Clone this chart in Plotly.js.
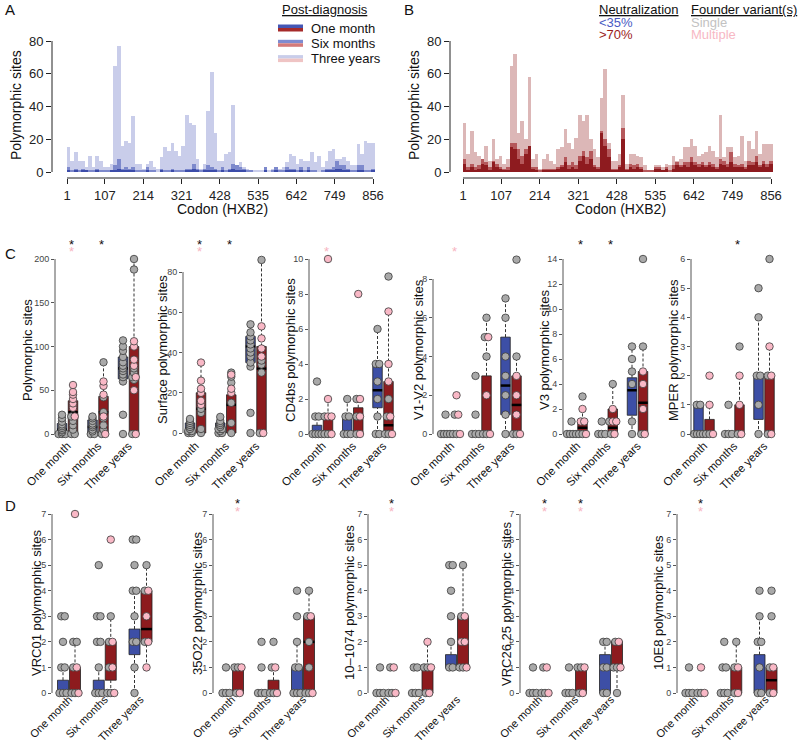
<!DOCTYPE html>
<html><head><meta charset="utf-8">
<script src="https://cdn.plot.ly/plotly-3.0.1.min.js"></script>
<style>html,body{margin:0;padding:0;background:#fff}#chart{width:800px;height:746px}</style>
</head><body><div id="chart"></div>
<script>
// ---------------- DATA ----------------
const categories = ['One month', 'Six months', 'Three years'];
const codonTicks = [1, 107, 214, 321, 428, 535, 642, 749, 856];
const codonBinWidth = 10;

// Panel A (<35% neutralization), polymorphic sites per 10-codon bin
const threeYearsA = [15,7,12,7,7,3,10,3,10,7, 3,3,5,65,77,16,19,18,34,5, 5,2,5,7,3,2,9,15,13,18, 13,10,16,35,30,29,8,2,5,37, 61,24,7,7,11,12,41,4,6,3, 2,1,1,1,1,3,1,2,3,2, 3,6,11,10,5,8,7,7,12,6, 10,3,7,13,14,8,8,9,7,4, 4,17,11,19,18,18];
const sixMonthsA  = [3,1,2,1,2,1,1,1,2,1, 1,1,1,4,8,2,3,2,3,1, 1,1,3,1,1,0,2,1,1,2, 1,1,1,2,2,5,2,1,2,4, 3,2,1,3,1,2,5,4,3,2, 1,1,0,0,0,3,0,1,3,1, 1,3,2,2,1,3,1,3,1,1, 0,1,2,2,3,7,4,4,2,1, 1,4,4,1,1,2];
const oneMonthA   = [1,0,1,0,1,1,0,0,1,0, 0,0,1,1,2,1,1,1,1,0, 0,0,1,0,0,0,1,0,0,1, 0,0,0,1,1,2,1,0,1,1, 1,1,0,1,0,1,2,1,1,1, 0,0,0,0,0,1,0,0,1,0, 0,1,1,1,0,1,0,1,0,0, 0,0,1,1,1,2,2,1,1,0, 0,1,1,0,0,1];
// Panel B (>70% neutralization)
const threeYearsB = [30,11,25,12,10,6,16,7,20,8, 10,5,8,65,72,24,31,20,58,8, 11,2,8,11,7,5,14,15,26,18, 14,21,35,31,35,20,14,9,45,63, 18,7,7,11,47,5,11,11,10,9, 4,1,1,4,4,3,5,4,10,7, 8,15,15,20,16,10,11,12,16,13, 9,35,9,15,15,9,10,22,7,19, 14,25,11,17,17,17];
const sixMonthsB  = [8,3,5,3,4,8,6,3,7,5, 3,2,3,18,18,14,10,14,16,3, 3,1,2,2,2,2,3,4,9,4, 6,4,10,13,9,13,4,3,25,20, 14,2,2,4,27,2,5,4,5,3, 1,1,1,3,3,1,3,1,4,6, 4,6,6,9,6,5,6,4,6,5, 3,8,7,5,12,5,4,5,3,7, 6,10,4,7,5,7];
const oneMonthB   = [5,1,3,1,2,5,4,1,6,3, 2,1,1,15,14,8,5,11,16,2, 1,0,1,1,1,1,2,3,6,2, 3,2,7,10,5,8,3,2,24,16, 9,1,1,3,20,1,3,2,3,2, 0,0,0,2,2,1,2,0,2,4, 3,4,3,6,4,3,4,3,4,3, 2,5,4,3,6,3,3,3,2,4, 4,6,3,5,3,5];

// Box panels: group order = [1m <35%, 1m >70%, 6m <35%, 6m >70%, 3y <35%, 3y >70%]
// C1 Polymorphic sites
const C1_q1 = [0,0,0,0,63,0], C1_med = [5,25,8,25,75,65], C1_q3 = [12,38,16,43,88,100];
const C1_blue = [[0,0,0,2,4,5,7,9,11,14,18,22],[0,0,3,5,8,10,12,15,18,20],[0,22,60,65,68,72,75,78,82,88,95,100,107]];
const C1_redGray = [[0,0,5,10,15,20],[0,5,10,18,25,42,82],[0,62,65,70,75,188,200]];
const C1_redPink = [[20,30,35,40,45,48,56],[0,20,45,55,60],[0,50,65,78,85,100,106]];
const C1_sigBlack = [1,1,0], C1_sigPink = [1,0,0];
// C2 Surface
const C2_q1 = [0,0,0,0,35,0], C2_med = [2,12,2,14,43,32], C2_q3 = [5,20,5,19,48,43];
const C2_blue = [[0,0,1,1,2,3,4,5,6,7],[0,0,1,2,2,3,4,5,6,8],[0,10,33,35,38,40,42,44,46,48,50,54]];
const C2_redGray = [[0,2,10,12],[0,5,15,25,28,30],[0,30,34,36,86]];
const C2_redPink = [[14,16,20,22,26,35],[20,22,29],[0,38,42,47,53]];
const C2_sigBlack = [1,1,0], C2_sigPink = [1,0,0];
// C3 CD4bs
const C3_q1 = [0,0,0,0,1.5,0], C3_med = [0,0,0,1,2.5,0.5], C3_q3 = [0.5,1,1,1.5,4,3];
const C3_blue = [[0,0,0,0,1,1,3],[0,0,0,1,1,2],[0,0,1,2,3,4,4,6]];
const C3_redGray = [[0,0,1],[0,1,2],[0,0,1,2,9]];
const C3_redPink = [[0,1,1,2,10],[0,1,2,8],[0,1,3,4,7]];
const C3_sigBlack = [0,0,0], C3_sigPink = [1,0,0];
// C4 V1-V2
const C4_q1 = [0,0,0,0,1,0], C4_med = [0,0,0,0,2.5,1.5], C4_q3 = [0,0,0,3,5,3];
const C4_blue = [[0,0,0,0,1],[0,0,0,1,3],[0,1,2,3,4,6,7]];
const C4_redGray = [[0,0,1],[0,0,4,5,6],[0,0,4,9]];
const C4_redPink = [[0,1,2],[0,2,5],[0,1,2,3]];
const C4_sigBlack = [0,0,0], C4_sigPink = [1,0,0];
// C5 V3
const C5_q1 = [0,0,0,0,1.5,0], C5_med = [0,0.5,0,0.5,3.5,2.5], C5_q3 = [0,1,0,2,4.5,5];
const C5_blue = [[0,0,0,0,1],[0,0,0,1],[0,1,4,5,6,7]];
const C5_redGray = [[0,0,3],[0,1,4],[0,7,14]];
const C5_redPink = [[0,1,1,2],[0,1,1,2],[0,2,4,5]];
const C5_sigBlack = [1,1,0], C5_sigPink = [0,0,0];
// C6 MPER
const C6_q1 = [0,0,0,0,0.5,0], C6_med = [0,0,0,0,2,2], C6_q3 = [1,0.5,0,1,2,2];
const C6_blue = [[0,0,0,0,1,1],[0,0,0,1],[0,1,2,2,4,5]];
const C6_redGray = [[0,0],[0,3],[0,2,6]];
const C6_redPink = [[0,1,2],[0,1,2],[0,2,3]];
const C6_sigBlack = [0,1,0], C6_sigPink = [0,0,0];
// D1 VRC01
const D1_q1 = [0,0,0,0.5,1.5,2], D1_med = [0,0,0,1,2,2.5], D1_q3 = [0.5,1,0.5,2,2.5,4];
const D1_blue = [[0,0,0,1,1,2,3,3],[0,0,0,1,2,2,3,3,5],[0,1,2,2,3,4,4,5,6,6]];
const D1_redGray = [[0,0,1,2,2],[0,0,1,2,3],[2,4,5]];
const D1_redPink = [[0,1,7],[0,1,2,6],[1,2,3,4]];
const D1_sigBlack = [0,0,0], D1_sigPink = [0,0,0];
// D2 35O22
const D2_q1 = [0,0,0,0,0,0], D2_med = [0,0,0,0,0,2], D2_q3 = [0,1,0,0.5,1,3];
const D2_blue = [[0,0,0,1],[0,0,0,1,2],[0,0,0,1,1,2,3,4]];
const D2_redGray = [[0,1,1],[0,0,1,2],[0,0,1,2,3,4]];
const D2_redPink = [[0,1],[0,1],[0,3]];
const D2_sigBlack = [1,0,0], D2_sigPink = [1,0,0];
// D3 10-1074
const D3_q1 = [0,0,0,0,1,1], D3_med = [0,0,0,0,1,2], D3_q3 = [0,0,0,1,1.5,3];
const D3_blue = [[0,0,0,1],[0,0,0,1,1],[1,1,2,3,4,5,5]];
const D3_redGray = [[0,0,1],[0,1,1],[1,1,3,5]];
const D3_redPink = [[0,1],[0,1,2],[1,2,2,3]];
const D3_sigBlack = [1,0,0], D3_sigPink = [1,0,0];
// D4 VRC26.25
const D4_q1 = [0,0,0,0,0,1], D4_med = [0,0,0,0,1,2], D4_q3 = [0,0,0,1,1.5,2];
const D4_blue = [[0,0,0,1],[0,0,0,1],[0,0,1,1,2,2]];
const D4_redGray = [[0,0,1],[0,1,1],[0,1,1,2]];
const D4_redPink = [[0,1],[0,1],[1,2]];
const D4_sigBlack = [1,1,0], D4_sigPink = [1,1,0];
// D5 10E8
const D5_q1 = [0,0,0,0,0,0], D5_med = [0,0,0,0,0,0.5], D5_q3 = [0,0,0,1,1.5,1];
const D5_blue = [[0,0,0,1],[0,0,0,1,1,2],[0,0,1,2,2,3,4]];
const D5_redGray = [[0,0],[0,1,2],[0,1,3,4]];
const D5_redPink = [[0,1],[0,1],[0,1]];
const D5_sigBlack = [1,0,0], D5_sigPink = [1,0,0];

// ---------------- STYLE / LAYOUT ----------------
const W = 800, H = 746;
const FONT = 'Liberation Sans, Arial, Helvetica, sans-serif';
const COL_A = ['#3c4ca9', '#7d89cc', '#c9cdea'];
const COL_B = ['#8e1b1f', '#b5585b', '#dcb7b7'];
const BLUE = '#3d4fa6', RED = '#8d1b1e', GRAY = '#a9a9a9', PINK = '#f9b8c6';

function lin(p0, v0, p1, v1) { const k = (v1 - v0) / (p1 - p0); return p => v0 + (p - p0) * k; }
const px = x => x / W, py = y => 1 - y / H;

const traces = [], shapes = [], annotations = [];
const layout = {
  width: W, height: H, margin: {l:0, r:0, t:0, b:0},
  paper_bgcolor: '#fff', plot_bgcolor: 'rgba(0,0,0,0)',
  font: {family: FONT, color: '#111'},
  barmode: 'overlay', bargap: 0, showlegend: false, hovermode: false
};
let axisCount = 0;
function newAxes(xpx, xmap, ypx, ymap) {
  axisCount++;
  const n = axisCount === 1 ? '' : String(axisCount);
  const base = {showgrid:false, zeroline:false, showline:false, automargin:false, fixedrange:true};
  layout['xaxis' + n] = Object.assign({domain:[px(xpx[0]), px(xpx[1])], range:[xmap(xpx[0]), xmap(xpx[1])], anchor:'y' + n}, base);
  layout['yaxis' + n] = Object.assign({domain:[py(ypx[1]), py(ypx[0])], range:[ymap(ypx[1]), ymap(ypx[0])], anchor:'x' + n}, base);
  return {x:'x' + n, y:'y' + n, xa:'xaxis' + n, ya:'yaxis' + n};
}
function txt(text, x, y, size, opts) {
  annotations.push(Object.assign({text, x:px(x), y:py(y), xref:'paper', yref:'paper', showarrow:false,
    font:{size, family:FONT, color:'#111'}, xanchor:'center', yanchor:'middle'}, opts || {}));
}

// ---------- Panels A & B ----------
function addCodonPanel(series, colors, geom) {
  const ax = newAxes([geom.left, geom.right], lin(geom.c1px, 1, geom.c856px, 856), [30, 178], lin(172, 0, 41, 80));
  Object.assign(layout[ax.xa], {tickvals: codonTicks, ticks:'outside', ticklen:5, tickcolor:'#222', tickfont:{size:13, color:'#222'}});
  Object.assign(layout[ax.ya], {tickvals:[0,20,40,60,80], ticks:'outside', ticklen:5, tickcolor:'#222', tickfont:{size:13, color:'#222'}});
  series.forEach((vals, i) => {
    traces.push({type:'bar', xaxis:ax.x, yaxis:ax.y,
      x: vals.map((v, k) => k * codonBinWidth + 1 + (codonBinWidth - 1) / 2),
      y: vals, width: vals.map(() => codonBinWidth),
      marker:{color: colors[i], line:{width:0}}});
  });
  shapes.push({type:'line', xref:ax.x + ' domain', yref:ax.y, x0:0, x1:0, y0:0, y1:80, line:{color:'#222', width:1}});
  shapes.push({type:'line', xref:ax.x, yref:ax.y + ' domain', x0:1, x1:856, y0:0, y1:0, line:{color:'#222', width:1}});
  txt('Codon (HXB2)', geom.titleX, 209, 14);
  txt('Polymorphic sites', geom.ytX, 105, 14, {textangle:-90});
}
addCodonPanel([threeYearsA, sixMonthsA, oneMonthA], [COL_A[2], COL_A[1], COL_A[0]], {left:52, right:380, c1px:67, c856px:373, titleX:222, ytX:16});
addCodonPanel([threeYearsB, sixMonthsB, oneMonthB], [COL_B[2], COL_B[1], COL_B[0]], {left:450, right:778, c1px:463, c856px:771, titleX:620, ytX:414});

// Legend A
txt('<u>Post-diagnosis</u>', 280, 9, 13, {xanchor:'left'});
const legA = [['One month', '#4456b4', '#a52a2a'], ['Six months', '#7f8bd0', '#d47a7a'], ['Three years', '#c9cdea', '#efc4c4']];
legA.forEach((r, i) => {
  const yc = 28 + i * 15.3;
  shapes.push({type:'rect', xref:'paper', yref:'paper', x0:px(278), x1:px(303), y0:py(yc), y1:py(yc - 3.5), fillcolor:r[1], line:{width:0}});
  shapes.push({type:'rect', xref:'paper', yref:'paper', x0:px(278), x1:px(303), y0:py(yc + 3.5), y1:py(yc), fillcolor:r[2], line:{width:0}});
  txt(r[0], 309, yc, 13, {xanchor:'left'});
});
// Legend B
txt('<u>Neutralization</u>', 597, 9, 13, {xanchor:'left'});
txt('&lt;35%', 597, 22, 13, {xanchor:'left', font:{size:13, family:FONT, color:'#4a5bc4'}});
txt('&gt;70%', 597, 34, 13, {xanchor:'left', font:{size:13, family:FONT, color:'#9b1c1c'}});
txt('<u>Founder variant(s)</u>', 689, 9, 13, {xanchor:'left'});
txt('Single', 689, 22, 13, {xanchor:'left', font:{size:13, family:FONT, color:'#c2c2c2'}});
txt('Multiple', 689, 34, 13, {xanchor:'left', font:{size:13, family:FONT, color:'#f7b8c4'}});

// Panel letters
txt('A', 3, 9, 15, {xanchor:'left'});
txt('B', 402, 9, 15, {xanchor:'left'});
txt('C', 3, 253, 15, {xanchor:'left'});
txt('D', 3, 505, 15, {xanchor:'left'});

// ---------- Box panels ----------
const rowC = {y0:434, top:250, bottom:437, off:5.5, w:9.5, titleY:350, starY:[241, 248], starOff:0.12, lblStand:-1, lblSize:11.5};
const rowD = {y0:693, top:505, bottom:696, off:6, w:11, titleY:603, starY:[500, 508], starOff:0.15, lblStand:-6, lblSize:11};
const boxPanels = [
  {title:'Polymorphic sites', ticks:[0,50,100,150,200], q1:C1_q1, med:C1_med, q3:C1_q3, blue:C1_blue, rg:C1_redGray, rp:C1_redPink, sb:C1_sigBlack, sp:C1_sigPink, row:rowC, g:{axis:55, right:145, c1:67.5, c3:128.5, topPx:259, tx:27}},
  {title:'Surface polymorphic sites', ticks:[0,20,40,60,80], q1:C2_q1, med:C2_med, q3:C2_q3, blue:C2_blue, rg:C2_redGray, rp:C2_redPink, sb:C2_sigBlack, sp:C2_sigPink, row:rowC, g:{axis:183, right:272, c1:195.5, c3:256, topPx:272, y0:433, tx:162}},
  {title:'CD4bs polymorphic sites', ticks:[0,2,4,6,8,10], q1:C3_q1, med:C3_med, q3:C3_q3, blue:C3_blue, rg:C3_redGray, rp:C3_redPink, sb:C3_sigBlack, sp:C3_sigPink, row:rowC, g:{axis:309, right:398, c1:322.5, c3:383, topPx:259, tx:290}},
  {title:'V1-V2 polymorphic sites', ticks:[0,2,4,6,8], q1:C4_q1, med:C4_med, q3:C4_q3, blue:C4_blue, rg:C4_redGray, rp:C4_redPink, sb:C4_sigBlack, sp:C4_sigPink, row:rowC, g:{axis:433, right:527, c1:451, c3:511, topPx:279, tx:418}},
  {title:'V3 polymorphic sites', ticks:[0,2,4,6,8,10,12,14], q1:C5_q1, med:C5_med, q3:C5_q3, blue:C5_blue, rg:C5_redGray, rp:C5_redPink, sb:C5_sigBlack, sp:C5_sigPink, row:rowC, g:{axis:563, right:652, c1:577, c3:637.5, topPx:259, tx:544}},
  {title:'MPER polymorphic sites', ticks:[0,1,2,3,4,5,6], q1:C6_q1, med:C6_med, q3:C6_q3, blue:C6_blue, rg:C6_redGray, rp:C6_redPink, sb:C6_sigBlack, sp:C6_sigPink, row:rowC, g:{axis:691, right:780, c1:704, c3:764, topPx:259, tx:673}},
  {title:'VRC01 polymorphic sites', ticks:[0,1,2,3,4,5,6,7], q1:D1_q1, med:D1_med, q3:D1_q3, blue:D1_blue, rg:D1_redGray, rp:D1_redPink, sb:D1_sigBlack, sp:D1_sigPink, row:rowD, g:{axis:52, right:158, c1:69, c3:140.5, topPx:514, tx:36}},
  {title:'35O22 polymorphic sites', ticks:[0,1,2,3,4,5,6,7], q1:D2_q1, med:D2_med, q3:D2_q3, blue:D2_blue, rg:D2_redGray, rp:D2_redPink, sb:D2_sigBlack, sp:D2_sigPink, row:rowD, g:{axis:213, right:318, c1:232, c3:303, topPx:514, tx:197}},
  {title:'10\u20131074 polymorphic sites', ticks:[0,1,2,3,4,5,6,7], q1:D3_q1, med:D3_med, q3:D3_q3, blue:D3_blue, rg:D3_redGray, rp:D3_redPink, sb:D3_sigBlack, sp:D3_sigPink, row:rowD, g:{axis:368, right:472, c1:386, c3:457, topPx:514, tx:349}},
  {title:'VRC26.25 polymorphic sites', ticks:[0,1,2,3,4,5,6,7], q1:D4_q1, med:D4_med, q3:D4_q3, blue:D4_blue, rg:D4_redGray, rp:D4_redPink, sb:D4_sigBlack, sp:D4_sigPink, row:rowD, g:{axis:520, right:626, c1:539, c3:611, topPx:514, tx:506}},
  {title:'10E8 polymorphic sites', ticks:[0,1,2,3,4,5,6,7], q1:D5_q1, med:D5_med, q3:D5_q3, blue:D5_blue, rg:D5_redGray, rp:D5_redPink, sb:D5_sigBlack, sp:D5_sigPink, row:rowD, g:{axis:677, right:781, c1:695, c3:765.5, topPx:514, tx:658}}
];

function addBoxPanel(P) {
  const g = P.g, R = P.row;
  const y0 = g.y0 !== undefined ? g.y0 : R.y0;
  const topVal = P.ticks[P.ticks.length - 1];
  const ppu = (g.c3 - g.c1) / 2;
  const ax = newAxes([g.axis, g.right], lin(g.c1, 1, g.c3, 3), [R.top, R.bottom], lin(y0, 0, g.topPx, topVal));
  Object.assign(layout[ax.xa], {tickvals:[1,2,3], ticktext:categories, tickangle:-45, ticks:'', ticklabelstandoff:R.lblStand, tickfont:{size:R.lblSize, color:'#111'}});
  Object.assign(layout[ax.ya], {tickvals:P.ticks, ticks:'outside', ticklen:3, tickcolor:'#555', tickwidth:1, tickfont:{size:9, color:'#444'}});
  shapes.push({type:'line', xref:ax.x + ' domain', yref:ax.y, x0:0, x1:0, y0:0, y1:topVal, line:{color:'#555', width:1}});

  const off = R.off / ppu, bw = R.w / ppu;
  const wx = [], wy = [], mx = [], my = [];
  const bx = [], bh = [], bb = [], bc = [];
  const gx = [], gy = [], pxs = [], pys = [];
  for (let k = 0; k < 6; k++) {
    const cat = Math.floor(k / 2) + 1, red = k % 2 === 1;
    const xc = cat + (red ? off : -off);
    const pts = red ? P.rg[cat - 1].map(v => ({v, c:'g'})).concat(P.rp[cat - 1].map(v => ({v, c:'p'})))
                    : P.blue[cat - 1].map(v => ({v, c:'g'}));
    const q1 = P.q1[k], q3 = P.q3[k], md = P.med[k], iqr = q3 - q1;
    const vals = pts.map(p => p.v);
    const inUp = vals.filter(v => v <= q3 + 1.5 * iqr), inLo = vals.filter(v => v >= q1 - 1.5 * iqr);
    const up = inUp.length ? Math.max(...inUp) : q3, lo = inLo.length ? Math.min(...inLo) : q1;
    if (up > q3) { wx.push(xc, xc, null); wy.push(q3, up, null); }
    if (lo < q1) { wx.push(xc, xc, null); wy.push(lo, q1, null); }
    if (q3 > q1) {
      bx.push(xc); bh.push(q3 - q1); bb.push(q1); bc.push(red ? RED : BLUE);
      mx.push(xc - bw / 2, xc + bw / 2, null); my.push(md, md, null);
    }
    // spread coincident points sideways
    const buckets = {};
    pts.forEach(p => { (buckets[p.v] = buckets[p.v] || []).push(p); });
    Object.values(buckets).forEach(b => {
      const n = b.length, sp = Math.min(3.5, 9 / Math.max(n - 1, 1));
      b.forEach((p, i) => {
        const x = xc + (i - (n - 1) / 2) * sp / ppu;
        if (p.c === 'g') { gx.push(x); gy.push(p.v); } else { pxs.push(x); pys.push(p.v); }
      });
    });
  }
  traces.push({type:'scatter', mode:'lines', xaxis:ax.x, yaxis:ax.y, x:wx, y:wy, line:{color:'#333', width:1, dash:'3px,2px'}, cliponaxis:false});
  traces.push({type:'bar', xaxis:ax.x, yaxis:ax.y, x:bx, y:bh, base:bb, width:bx.map(() => bw), marker:{color:bc, line:{color:'#222', width:0.8}}});
  traces.push({type:'scatter', mode:'lines', xaxis:ax.x, yaxis:ax.y, x:mx, y:my, line:{color:'#000', width:2.5}, cliponaxis:false});
  const mk = (fill) => ({size:7.5, color:fill, line:{color:'#3a3a3a', width:0.8}});
  traces.push({type:'scatter', mode:'markers', xaxis:ax.x, yaxis:ax.y, x:gx, y:gy, marker:mk(GRAY), cliponaxis:false});
  traces.push({type:'scatter', mode:'markers', xaxis:ax.x, yaxis:ax.y, x:pxs, y:pys, marker:mk(PINK), cliponaxis:false});

  txt(P.title, g.tx, R.titleY, 13, {textangle:-90});
  [0, 1, 2].forEach(i => {
    const sx = i + 1 + R.starOff;
    if (P.sb[i]) annotations.push({text:'*', xref:ax.x, yref:'paper', x:sx, y:py(R.starY[0] + 3), showarrow:false, font:{size:13, family:FONT, color:'#111'}, xanchor:'center', yanchor:'middle'});
    if (P.sp[i]) annotations.push({text:'*', xref:ax.x, yref:'paper', x:sx, y:py(R.starY[1] + 3), showarrow:false, font:{size:13, family:FONT, color:'#f7b3c0'}, xanchor:'center', yanchor:'middle'});
  });
}
boxPanels.forEach(addBoxPanel);

layout.shapes = shapes;
layout.annotations = annotations;
Plotly.newPlot('chart', traces, layout, {staticPlot:true, displayModeBar:false});
</script>
</body></html>
